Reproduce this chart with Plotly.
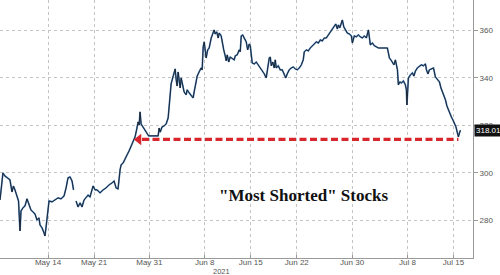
import plotly.graph_objects as go

# trading-day position (0 = May 14, 2021; weekends removed) and index level
day_pos = [
    -5.21, -5.05, -4.89, -4.67, -4.35, -4.13, -3.91, -3.75, -3.59, -3.37, -3.20, -3.04, -2.93,
    -2.72, -2.50, -2.28, -2.06, -1.85, -1.63, -1.41, -1.20, -0.98, -0.87, -0.65, -0.43, -0.33,
    -0.22, -0.05, 0.11, 0.43, 0.76, 1.09, 1.41, 1.74, 1.96, 2.17, 2.39, 2.61, 2.77, None,
    3.04, 3.26, 3.48, 3.69, 3.91, 4.13, 4.35, 4.56, 4.89, 5.11, 5.32, 5.65, 5.98, 6.30, 6.63,
    6.95, 7.17, 7.39, 7.60, 7.82, 7.93, 8.15, 8.37, 8.58, 8.80, 9.02, 9.23, 9.34, 9.45, 9.61,
    9.78, 9.89, 9.99, 10.10, 10.32, 10.54, 10.76, 10.92, 11.95, 12.06, 12.17, 12.38, 12.60,
    12.82, 13.04, 13.15, 13.25, 13.36, 13.53, 13.69, 13.80, 13.91, 14.01, 14.12, 14.23, 14.34,
    14.45, 14.56, 14.77, 14.99, 15.10, 15.32, 15.54, 15.75, 15.86, 16.02, 16.19, 16.40, 16.62,
    16.73, 16.84, 16.95, 17.06, 17.16, 17.33, 17.49, 17.71, 17.92, 18.03, 18.14, 18.31, 18.47,
    18.58, 18.79, 18.90, 19.07, 19.23, 19.34, 19.45, 19.61, 19.77, 19.99, 20.21, 20.32, 20.53,
    20.75, 20.86, 20.97, 21.13, 21.29, 21.51, 21.67, 21.84, 21.95, 22.05, 22.16, 22.38, 22.60,
    22.81, 23.03, 23.25, 23.47, 23.68, 23.79, 24.01, 24.12, 24.23, 24.39, 24.55, 24.66, 24.77,
    24.99, 25.20, 25.42, 25.64, 25.80, 25.96, 26.18, 26.40, 26.62, 26.83, 27.05, 27.27, 27.49,
    27.70, 27.81, 28.03, 28.25, 28.46, 28.68, 28.90, 29.12, 29.33, 29.55, 29.77, 29.98, 30.20,
    30.42, 30.64, 30.85, 31.07, 31.23, 31.40, 31.51, 31.67, 31.83, 31.94, 32.10, 32.27, 32.48,
    32.70, 32.92, 33.03, 33.24, 33.46, 33.68, 33.90, 34.11, 34.33, 34.55, 34.77, 34.87, 34.98,
    35.20, 35.42, 35.63, 35.85, 36.83, 36.94, 37.05, 37.21, 37.37, 37.54, 37.70, 37.92, 38.02,
    38.19, 38.35, 38.57, 38.78, 38.89, 38.95, 39.00, 39.11, 39.33, 39.55, 39.71, 39.87, 40.09,
    40.31, 40.52, 40.74, 40.96, 41.07, 41.23, 41.39, 41.61, 41.83, 42.04, 42.26, 42.48, 42.64,
    42.80, 42.97, 43.13, 43.29, 43.45, 43.62, 43.78, 43.94, 44.11, 44.27, 44.43, 44.54, 44.65,
    44.76,
]
level = [
    288.6, 294.5, 300.0, 298.7, 297.5, 297.1, 292.0, 294.5, 292.9, 290.3, 288.2, 275.6, 284.0,
    285.3, 286.1, 289.1, 286.5, 284.4, 283.6, 282.7, 280.2, 281.1, 278.1, 276.9, 274.7, 273.5,
    276.9, 284.4, 288.2, 287.8, 288.6, 289.5, 289.1, 290.3, 293.7, 297.9, 298.3, 296.6, 292.9, None,
    288.2, 285.7, 287.4, 285.7, 288.6, 289.9, 290.7, 289.9, 294.5, 292.9, 292.9, 291.6, 292.9, 293.7, 295.0,
    295.8, 296.6, 293.7, 293.3, 301.3, 303.4, 304.2, 306.3, 307.6, 309.3, 311.4, 313.1, 313.9, 315.2, 318.1,
    321.5, 320.2, 325.7, 320.6, 319.4, 318.1, 316.8, 315.6, 315.6, 318.9, 317.2, 319.4, 319.8,
    320.6, 323.2, 328.6, 332.9, 337.5, 340.0, 342.5, 343.8, 339.2, 336.6, 342.5, 338.3, 335.8,
    340.0, 337.5, 334.1, 332.9, 335.0, 333.7, 332.4, 331.6, 334.1, 337.5, 340.8, 342.5, 344.2,
    343.4, 353.1, 355.2, 349.7, 348.4, 351.8, 352.6, 356.8, 359.4, 360.2, 358.5, 359.4, 356.8,
    358.9, 357.7, 354.7, 351.8, 349.3, 347.2, 349.7, 346.7, 348.8, 348.0, 347.6, 349.3, 349.7,
    351.8, 351.0, 357.7, 358.1, 356.8, 355.2, 351.8, 354.3, 353.5, 349.7, 346.3, 345.9, 346.7,
    345.5, 344.2, 343.4, 341.7, 340.0, 343.4, 348.4, 348.8, 345.1, 346.7, 344.2, 347.6, 344.2,
    345.1, 343.4, 343.4, 341.3, 340.0, 341.7, 343.4, 344.2, 344.6, 343.8, 343.4, 344.2, 345.5,
    347.6, 351.0, 351.8, 351.4, 352.6, 353.5, 354.3, 355.2, 354.7, 356.0, 355.6, 356.8, 356.8,
    358.1, 358.9, 360.2, 361.9, 362.7, 360.6, 362.3, 361.1, 362.7, 364.4, 361.5, 360.2, 358.9,
    358.5, 357.7, 354.7, 357.7, 357.3, 358.1, 357.3, 356.8, 357.7, 356.8, 360.2, 356.0, 353.9,
    354.7, 353.5, 353.1, 352.6, 352.6, 350.5, 348.4, 347.6, 346.7, 345.5, 347.6, 343.4, 337.1,
    338.3, 337.9, 338.7, 337.1, 335.0, 328.6, 335.8, 340.0, 341.3, 342.1, 340.8, 342.9, 344.2,
    345.1, 345.5, 345.1, 345.9, 343.4, 341.7, 343.4, 343.8, 344.2, 340.4, 339.2, 338.3, 335.8,
    334.1, 332.9, 330.8, 328.2, 326.5, 325.2, 323.5, 322.3, 320.6, 319.4, 316.8, 315.2, 316.8,
    318.01,
]

tick_pos = [0, 5, 11, 17, 22, 27, 33, 39, 44]
tick_labels = ["May 14", "May 21", "May 31", "Jun 8", "Jun 15", "Jun 22", "Jun 30", "Jul 8", "Jul 15"]
y_ticks = [280, 300, 320, 340, 360]
last_value = 318.01

# red "support" arrow
support_level = 314.1
arrow_span = [10.2, 44.54]
arrow_head = 9.85

fig = go.Figure()

fig.add_trace(go.Scatter(
    x=day_pos, y=level, mode="lines",
    line=dict(color="#4f86c0", width=1.7),
    connectgaps=False, hoverinfo="skip", showlegend=False,
))
fig.add_trace(go.Scatter(
    x=day_pos, y=level, mode="lines",
    line=dict(color="#161b24", width=0.9),
    connectgaps=False, hoverinfo="skip", showlegend=False,
))

fig.add_trace(go.Scatter(
    x=arrow_span, y=[support_level, support_level], mode="lines",
    line=dict(color="#d9262c", width=3.2, dash="7px,3.5px"),
    hoverinfo="skip", showlegend=False,
))
fig.add_trace(go.Scatter(
    x=[arrow_head], y=[support_level], mode="markers",
    marker=dict(symbol="triangle-left", size=10, color="#d9262c"),
    hoverinfo="skip", showlegend=False,
))

fig.add_annotation(
    xref="paper", yref="y", x=1, y=last_value, xanchor="left", yanchor="middle",
    xshift=1, text=f"{last_value:.2f}", showarrow=False,
    font=dict(family="Liberation Sans, Arial", size=8, color="white"),
    bgcolor="#111111", borderpad=1,
)

fig.add_annotation(
    xref="paper", yref="paper", x=0.641, y=0.244, xanchor="center", yanchor="middle",
    text="<b>\"Most Shorted\" Stocks</b>", showarrow=False,
    font=dict(family="Liberation Serif, Times New Roman, serif", size=17, color="#111111"),
)

fig.add_annotation(
    xref="x", yref="paper", x=18.8, y=0, yanchor="top", yshift=-7,
    text="2021", showarrow=False,
    font=dict(family="Liberation Sans, Arial", size=7.5, color="#555555"),
)

fig.update_layout(
    width=500, height=275,
    margin=dict(l=0, r=27, t=0, b=17),
    paper_bgcolor="white", plot_bgcolor="white",
    showlegend=False,
    xaxis=dict(
        range=[-5.21, 46.12],
        tickvals=tick_pos, ticktext=tick_labels,
        showgrid=True, gridcolor="#c4c4c4", griddash="dot", gridwidth=1,
        showline=True, linecolor="#9a9a9a", linewidth=1,
        ticks="inside", ticklen=3, tickcolor="#9a9a9a",
        ticklabelstandoff=-4,
        tickfont=dict(family="Liberation Sans, Arial", size=8, color="#555555"),
        zeroline=False, fixedrange=True,
    ),
    yaxis=dict(
        range=[264.2, 372.8], side="right",
        tickvals=y_ticks,
        showgrid=True, gridcolor="#c4c4c4", griddash="dot", gridwidth=1,
        showline=True, linecolor="#9a9a9a", linewidth=1,
        ticks="outside", ticklen=4, tickcolor="#9a9a9a",
        tickfont=dict(family="Liberation Sans, Arial", size=8, color="#555555"),
        zeroline=False, fixedrange=True,
    ),
)

fig.write_html("out.html")
